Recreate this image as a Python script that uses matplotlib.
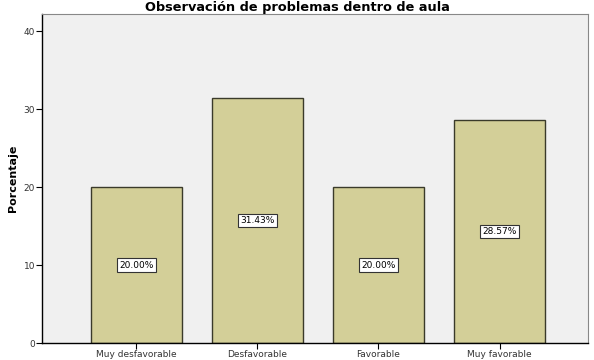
import matplotlib.pyplot as plt

# data
categorias = ['Muy desfavorable', 'Desfavorable', 'Favorable', 'Muy favorable']
porcentajes = [20.00, 31.43, 20.00, 28.57]
yticks = [0, 10, 20, 30, 40]

fig = plt.figure(figsize=(5.94, 3.6), dpi=100)
ax = fig.add_axes([0.0707, 0.047, 0.919, 0.914])
ax.set_facecolor('#F0F0F0')

x = range(len(categorias))
ax.bar(x, porcentajes, width=0.75, color='#D3CF98', edgecolor='#3a3a2a', linewidth=1.0)

for xi, v in zip(x, porcentajes):
    ax.text(xi, v / 2, f'{v:.2f}%', ha='center', va='center', fontsize=6.5,
            bbox=dict(boxstyle='square,pad=0.25', fc='white', ec='#333333', lw=0.8))

ax.set_xlim(-0.78, 3.73)
ax.set_ylim(0, 42.2)
ax.set_xticks(list(x))
ax.set_xticklabels(categorias, fontsize=6.5, color='#333333')
ax.set_yticks(yticks)
ax.set_yticklabels([str(t) for t in yticks], fontsize=6.5, color='#333333')
ax.tick_params(direction='out', length=4, width=0.8, pad=1)
ax.set_ylabel('Porcentaje', fontsize=8, fontweight='bold', labelpad=4)

for s in ['left', 'bottom']:
    ax.spines[s].set_color('#000000')
    ax.spines[s].set_linewidth(1.0)
for s in ['top', 'right']:
    ax.spines[s].set_color('#888888')
    ax.spines[s].set_linewidth(0.8)

fig.text(0.5, 0.997, 'Observación de problemas dentro de aula', ha='center', va='top',
         fontsize=9.3, fontweight='bold')

fig.savefig('out.png', dpi=100)
